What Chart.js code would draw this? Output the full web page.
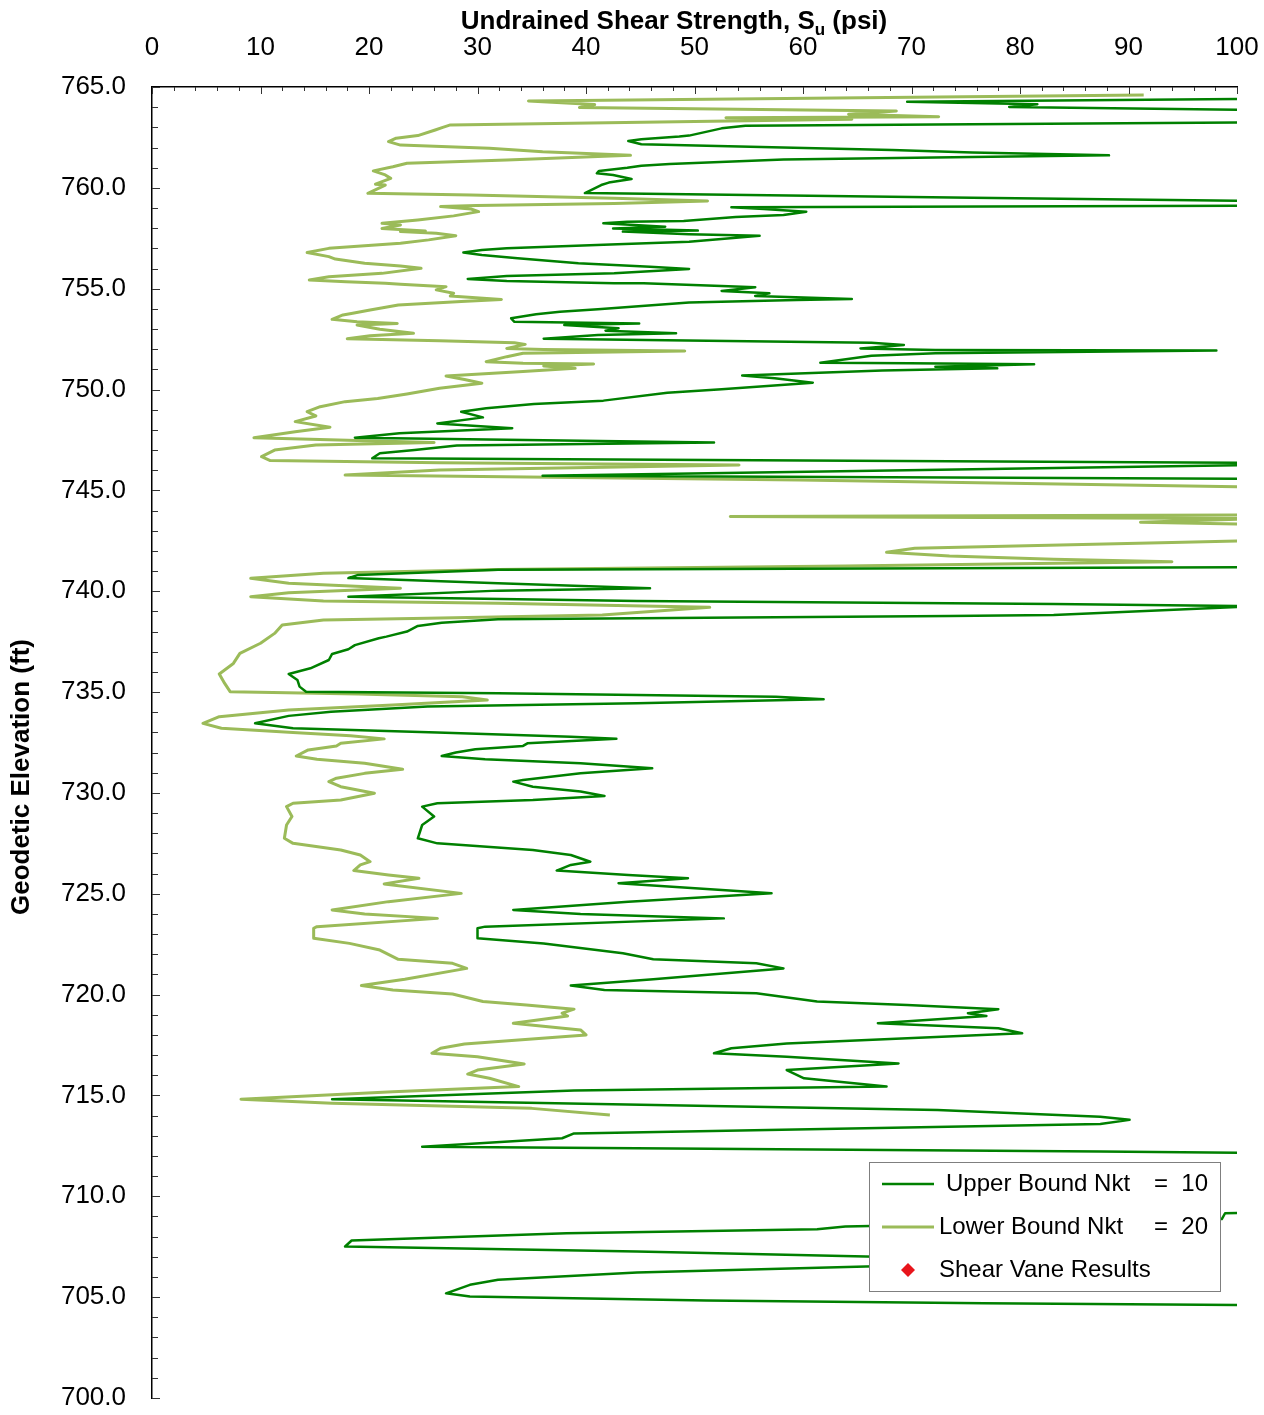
<!DOCTYPE html>
<html>
<head>
<meta charset="utf-8">
<script src="https://cdn.jsdelivr.net/npm/chart.js@4.4.1/dist/chart.umd.min.js"></script>
<style>
  html, body { margin: 0; padding: 0; background: #fff; }
  #wrap { width: 1264px; height: 1415px; }
</style>
</head>
<body>
<div id="wrap"><canvas id="chart" width="1264" height="1415"></canvas></div>
<script>
// CPT derived undrained shear strength vs elevation
// values of 102 sit just past the right edge (off scale)

const upperSu = [
  102, 69.6, 81.6, 79.0, 102, 102, 54.7, 52.5, 49.5, 48.6, 45.1, 43.9, 45.1, 68.2, 75.6, 88.2,
  75.6, 58.2, 47.7, 45.1, 43.8, 41.2, 41.0, 42.5, 44.2, 42.1, 41.4, 39.9, 75.6, 102, 102, 53.4,
  56.4, 60.3, 58.2, 53.8, 49.0, 43.8, 41.6, 47.3, 42.5, 50.3, 43.4, 49.5, 56.0, 49.5, 42.9, 32.7,
  30.4, 28.7, 30.4, 33.7, 39.3, 45.9, 49.5, 42.6, 32.7, 29.1, 32.7, 42.6, 45.3, 52.5, 55.6, 52.5,
  56.9, 55.6, 64.5, 59.4, 49.5, 41.1, 37.6, 35.4, 33.1, 33.4, 44.9, 38.0, 43.0, 41.8, 48.3, 41.1,
  36.1, 66.3, 69.3, 65.3, 72.2, 98.1, 72.2, 66.3, 61.6, 69.8, 81.3, 72.2, 77.9, 67.3, 54.4, 57.4,
  60.9, 52.5, 47.5, 41.6, 35.2, 30.8, 28.5, 30.5, 26.3, 33.2, 22.8, 18.7, 51.8, 28.1, 24.2, 21.0,
  20.3, 102, 102, 36.0, 102, 102, 31.9, 19.0, 18.1, 31.9, 45.9, 31.9, 18.1, 44.7, 83.1, 102,
  83.1, 73.5, 31.9, 26.7, 24.5, 23.5, 21.6, 20.9, 18.7, 18.1, 16.6, 16.3, 14.6, 12.6, 13.4, 13.6,
  14.2, 31.9, 57.5, 61.9, 44.7, 25.4, 16.5, 12.6, 9.5, 13.0, 26.3, 38.6, 42.8, 34.6, 34.2, 29.8,
  28.0, 26.7, 30.7, 39.5, 46.1, 39.5, 34.2, 33.3, 35.1, 39.5, 41.7, 35.1, 26.3, 24.9, 26.0, 24.9,
  24.5, 26.3, 35.1, 38.6, 40.4, 38.6, 37.3, 43.9, 49.4, 43.0, 57.1, 43.9, 33.3, 39.5, 52.7, 30.7,
  30.0, 30.0, 36.1, 43.4, 46.2, 55.7, 58.2, 46.2, 38.6, 41.7, 55.7, 61.3, 69.6, 78.0, 75.2, 76.9,
  66.9, 78.0, 80.2, 58.5, 53.4, 51.8, 58.5, 68.8, 58.5, 60.1, 67.7, 38.9, 16.6, 33.3, 72.4, 87.4,
  90.1, 87.4, 38.9, 37.8, 24.9, 87.4, 102, 102, 98.9, 98.6, 63.9, 61.3, 38.2, 18.4, 17.8, 44.7,
  65.8, 88.0, 65.8, 44.7, 31.9, 29.3, 27.1, 29.3, 51.1, 76.7, 102
];
const upperElev = [
  764.41, 764.27, 764.14, 764.01, 763.86, 763.25, 763.08, 762.95, 762.59, 762.54, 762.41, 762.32, 762.16, 761.88, 761.75, 761.61,
  761.53, 761.40, 761.18, 761.10, 761.00, 760.84, 760.72, 760.64, 760.44, 760.26, 760.14, 759.74, 759.51, 759.35, 759.12, 759.04,
  758.95, 758.82, 758.65, 758.55, 758.36, 758.32, 758.24, 758.07, 757.99, 757.88, 757.83, 757.70, 757.62, 757.33, 757.20, 757.00,
  756.92, 756.79, 756.67, 756.51, 756.26, 756.09, 755.98, 755.76, 755.63, 755.48, 755.38, 755.27, 755.27, 755.13, 755.07, 754.89,
  754.77, 754.64, 754.49, 754.44, 754.31, 753.98, 753.86, 753.73, 753.53, 753.36, 753.28, 753.20, 753.04, 752.92, 752.79, 752.70,
  752.52, 752.32, 752.21, 752.04, 751.96, 751.93, 751.80, 751.67, 751.33, 751.30, 751.25, 751.13, 751.05, 750.94, 750.69, 750.56,
  750.34, 750.01, 749.84, 749.45, 749.28, 749.07, 748.90, 748.62, 748.32, 748.08, 747.83, 747.61, 747.37, 747.22, 747.00, 746.84,
  746.59, 746.37, 746.26, 745.73, 745.57, 741.19, 741.06, 740.81, 740.65, 740.40, 740.15, 740.03, 739.73, 739.52, 739.37, 739.26,
  738.82, 738.77, 738.61, 738.44, 738.28, 738.00, 737.75, 737.67, 737.33, 737.12, 736.89, 736.59, 736.18, 735.90, 735.60, 735.27,
  735.02, 734.94, 734.77, 734.64, 734.45, 734.28, 734.03, 733.82, 733.45, 733.21, 733.00, 732.79, 732.68, 732.46, 732.33, 732.17,
  732.00, 731.83, 731.67, 731.47, 731.22, 730.97, 730.64, 730.56, 730.31, 730.07, 729.85, 729.65, 729.49, 729.32, 728.83, 728.41,
  727.75, 727.50, 727.17, 726.92, 726.59, 726.43, 726.15, 725.93, 725.77, 725.52, 725.02, 724.61, 724.20, 724.00, 723.78, 723.37,
  723.29, 722.79, 722.54, 722.05, 721.75, 721.55, 721.30, 720.76, 720.45, 720.23, 720.07, 719.66, 719.49, 719.28, 719.08, 718.94,
  718.58, 718.33, 718.08, 717.58, 717.34, 717.09, 716.92, 716.59, 716.26, 715.85, 715.44, 715.24, 714.81, 714.65, 714.28, 713.95,
  713.79, 713.59, 713.12, 712.88, 712.46, 712.22, 712.15, 709.18, 709.16, 708.87, 708.50, 708.37, 708.17, 707.81, 707.51, 707.26,
  707.01, 706.78, 706.52, 706.22, 705.86, 705.61, 705.19, 705.03, 704.83, 704.70, 704.60
];

const lowerSu = [
  91.4, 34.7, 40.8, 39.4, 68.6, 64.2, 72.5, 52.9, 64.5, 27.5, 26.8, 26.1, 24.5, 22.5, 21.8, 22.9,
  31.1, 36.0, 44.1, 32.7, 23.5, 22.2, 20.4, 21.5, 22.0, 20.6, 21.5, 19.9, 29.4, 42.6, 51.2, 42.6,
  29.9, 26.6, 29.4, 30.1, 27.8, 24.5, 21.2, 22.9, 21.2, 25.2, 22.9, 26.2, 28.0, 25.5, 22.9, 16.3,
  14.3, 16.3, 16.9, 19.6, 22.9, 24.8, 21.2, 16.3, 14.5, 17.9, 21.5, 22.9, 27.1, 26.2, 27.8, 27.5,
  32.2, 28.5, 22.7, 20.1, 18.5, 17.6, 16.6, 18.9, 22.6, 18.9, 21.0, 24.1, 20.1, 18.0, 26.5, 33.4,
  34.4, 32.7, 36.1, 49.1, 34.2, 32.7, 30.8, 34.2, 40.7, 36.1, 39.0, 34.2, 27.1, 28.8, 30.4, 26.5,
  23.5, 20.8, 17.8, 15.5, 14.3, 15.1, 13.2, 16.4, 13.2, 9.4, 18.9, 26.0, 15.1, 11.3, 10.1, 10.9,
  26.5, 54.1, 26.5, 17.8, 59.7, 102, 102, 53.3, 102, 91.1, 102, 102, 94.0, 70.3, 67.7, 73.5,
  83.1, 94.0, 63.9, 31.9, 15.8, 9.1, 12.6, 22.9, 12.6, 9.1, 15.8, 31.9, 51.4, 41.5, 25.4, 15.8,
  12.0, 11.3, 10.0, 8.1, 7.5, 6.2, 6.7, 7.2, 19.0, 28.6, 30.9, 22.2, 12.6, 6.2, 4.7, 6.4,
  13.0, 18.3, 21.4, 17.4, 17.0, 14.4, 13.3, 15.2, 19.6, 23.1, 19.6, 17.0, 16.3, 17.4, 20.5, 17.4,
  13.0, 12.4, 12.9, 12.4, 12.2, 13.0, 17.4, 19.2, 20.1, 19.2, 18.6, 21.8, 24.6, 21.4, 28.5, 21.8,
  16.6, 19.6, 26.3, 15.2, 14.9, 14.9, 18.2, 21.0, 22.7, 27.7, 29.0, 23.3, 19.3, 22.2, 27.7, 30.5,
  34.5, 38.9, 37.8, 38.3, 33.3, 39.5, 40.0, 28.8, 26.6, 25.8, 30.0, 34.3, 30.0, 29.1, 31.1, 33.8,
  22.2, 8.2, 16.6, 35.0, 42.2
];
const lowerElev = [
  764.60, 764.31, 764.13, 763.98, 763.81, 763.65, 763.53, 763.47, 763.40, 763.12, 763.00, 762.87, 762.59, 762.46, 762.29, 762.12,
  761.96, 761.79, 761.61, 761.38, 761.22, 761.05, 760.84, 760.64, 760.47, 760.18, 760.14, 759.73, 759.64, 759.48, 759.35, 759.23,
  759.12, 759.07, 758.95, 758.82, 758.61, 758.41, 758.24, 758.16, 757.99, 757.86, 757.83, 757.75, 757.63, 757.42, 757.25, 757.00,
  756.79, 756.59, 756.47, 756.26, 756.13, 756.01, 755.76, 755.59, 755.43, 755.35, 755.27, 755.22, 755.10, 754.94, 754.77, 754.64,
  754.47, 754.36, 754.19, 753.94, 753.78, 753.70, 753.48, 753.36, 753.28, 753.20, 752.99, 752.79, 752.67, 752.52, 752.42, 752.32,
  752.24, 752.04, 751.99, 751.91, 751.80, 751.63, 751.38, 751.30, 751.27, 751.17, 751.05, 750.89, 750.67, 750.50, 750.31, 750.06,
  749.78, 749.56, 749.40, 749.15, 748.90, 748.69, 748.41, 748.13, 747.91, 747.61, 747.47, 747.37, 747.25, 747.00, 746.67, 746.48,
  746.37, 746.26, 746.01, 745.76, 745.52, 745.16, 743.78, 743.70, 743.60, 743.42, 743.32, 742.51, 742.41, 742.13, 741.93, 741.75,
  741.58, 741.46, 741.25, 741.08, 740.89, 740.64, 740.40, 740.15, 739.93, 739.73, 739.52, 739.40, 739.20, 738.82, 738.66, 738.57,
  738.33, 737.91, 737.42, 736.92, 736.42, 735.90, 735.43, 735.02, 734.91, 734.77, 734.61, 734.36, 734.11, 733.78, 733.45, 733.21,
  733.00, 732.83, 732.68, 732.46, 732.33, 732.13, 731.83, 731.67, 731.47, 731.17, 730.97, 730.73, 730.56, 730.31, 729.98, 729.65,
  729.49, 729.32, 728.83, 728.41, 727.75, 727.50, 727.17, 726.92, 726.59, 726.43, 726.15, 725.93, 725.77, 725.49, 725.02, 724.61,
  724.20, 724.00, 723.78, 723.37, 723.29, 722.79, 722.54, 722.21, 721.75, 721.55, 721.30, 720.76, 720.45, 720.23, 720.03, 719.66,
  719.49, 719.28, 719.08, 718.94, 718.58, 718.25, 718.00, 717.55, 717.34, 717.09, 716.92, 716.56, 716.26, 716.06, 715.85, 715.44,
  715.19, 714.81, 714.61, 714.36, 714.03
];

// no shear vane points plotted in this figure
const vaneSu = [];
const vaneElev = [];

const seriesLabels = ['Upper Bound Nkt', 'Lower Bound Nkt', 'Shear Vane Results'];
const seriesNkt = ['10', '20', ''];

const DARK_GREEN = '#008000';
const LIGHT_GREEN = '#9bbb59';
const VANE_RED = '#e8141b';
const FONT = "'Liberation Sans', Arial, Helvetica, sans-serif";

const toPoints = (xs, ys) => xs.map((x, i) => ({ x, y: ys[i] }));

// inner minor/major tick marks plus axis titles
const axisDecor = {
  id: 'axisDecor',
  afterDraw(chart) {
    const { ctx, chartArea: a, scales: { x, y } } = chart;
    ctx.save();
    ctx.strokeStyle = '#333';
    ctx.lineWidth = 1;
    ctx.beginPath();
    for (let v = x.min; v <= x.max; v += 2) {
      const px = Math.round(x.getPixelForValue(v)) + 0.5;
      const len = v % 10 === 0 ? 7 : 4;
      ctx.moveTo(px, a.top);
      ctx.lineTo(px, a.top + len);
    }
    for (let v = y.min; v <= y.max; v += 1) {
      const py = Math.round(y.getPixelForValue(v)) + 0.5;
      const len = v % 5 === 0 ? 8 : 6;
      ctx.moveTo(a.left, py);
      ctx.lineTo(a.left + len, py);
    }
    ctx.stroke();

    // top title with subscript u
    ctx.fillStyle = '#000';
    ctx.textBaseline = 'alphabetic';
    ctx.textAlign = 'left';
    const big = 'bold 26px ' + FONT;
    const small = 'bold 17px ' + FONT;
    const p1 = 'Undrained Shear Strength, S', p2 = 'u', p3 = ' (psi)';
    ctx.font = big;
    const w1 = ctx.measureText(p1).width, w3 = ctx.measureText(p3).width;
    ctx.font = small;
    const w2 = ctx.measureText(p2).width;
    let tx = 674 - (w1 + w2 + w3) / 2;
    const base = 29;
    ctx.font = big; ctx.fillText(p1, tx, base); tx += w1;
    ctx.font = small; ctx.fillText(p2, tx, base + 6); tx += w2;
    ctx.font = big; ctx.fillText(p3, tx, base);

    // left title
    ctx.translate(22, 777);
    ctx.rotate(-Math.PI / 2);
    ctx.textAlign = 'center';
    ctx.textBaseline = 'middle';
    ctx.font = big;
    ctx.fillText('Geodetic Elevation (ft)', 0, 0);
    ctx.restore();
  }
};

// boxed legend in lower right of plot
const boxLegend = {
  id: 'boxLegend',
  afterDraw(chart) {
    const { ctx } = chart;
    const ds = chart.data.datasets;
    ctx.save();
    ctx.fillStyle = '#fff';
    ctx.fillRect(869, 1162, 351, 129);
    ctx.strokeStyle = '#7f7f7f';
    ctx.lineWidth = 1;
    ctx.strokeRect(869.5, 1162.5, 351, 129);

    ctx.font = '24px ' + FONT;
    ctx.fillStyle = '#000';
    ctx.textBaseline = 'middle';
    const rows = [1184, 1227, 1270];
    const textX = [946, 939, 939];
    for (let i = 0; i < 3; i++) {
      const ry = rows[i];
      if (i < 2) {
        ctx.strokeStyle = ds[i].borderColor;
        ctx.lineWidth = ds[i].borderWidth;
        ctx.beginPath();
        ctx.moveTo(882, ry);
        ctx.lineTo(934, ry);
        ctx.stroke();
      } else {
        ctx.fillStyle = ds[i].backgroundColor;
        ctx.beginPath();
        ctx.moveTo(908, ry - 7);
        ctx.lineTo(915, ry);
        ctx.lineTo(908, ry + 7);
        ctx.lineTo(901, ry);
        ctx.closePath();
        ctx.fill();
        ctx.fillStyle = '#000';
      }
      ctx.textAlign = 'left';
      ctx.fillText(seriesLabels[i], textX[i], ry);
      if (seriesNkt[i]) {
        ctx.textAlign = 'center';
        ctx.fillText('=', 1161, ry);
        ctx.textAlign = 'right';
        ctx.fillText(seriesNkt[i], 1208, ry);
      }
    }
    ctx.restore();
  }
};

const tickFont = { family: FONT, size: 26 };

new Chart(document.getElementById('chart'), {
  type: 'scatter',
  data: {
    datasets: [
      {
        label: seriesLabels[0],
        data: toPoints(upperSu, upperElev),
        showLine: true,
        borderColor: DARK_GREEN,
        backgroundColor: DARK_GREEN,
        borderWidth: 2.5,
        pointRadius: 0,
        tension: 0,
        borderJoinStyle: 'round'
      },
      {
        label: seriesLabels[1],
        data: toPoints(lowerSu, lowerElev),
        showLine: true,
        borderColor: LIGHT_GREEN,
        backgroundColor: LIGHT_GREEN,
        borderWidth: 3,
        pointRadius: 0,
        tension: 0,
        borderJoinStyle: 'round'
      },
      {
        label: seriesLabels[2],
        data: toPoints(vaneSu, vaneElev),
        borderColor: VANE_RED,
        backgroundColor: VANE_RED,
        pointStyle: 'rectRot',
        pointRadius: 7
      }
    ]
  },
  options: {
    responsive: false,
    animation: false,
    layout: { padding: { left: 0, top: 0, right: 27, bottom: 17 } },
    plugins: {
      legend: { display: false },
      tooltip: { enabled: false },
      title: { display: false }
    },
    scales: {
      x: {
        type: 'linear',
        position: 'top',
        min: 0,
        max: 100,
        ticks: { stepSize: 10, color: '#000', font: tickFont, padding: 24, maxRotation: 0 },
        grid: { display: false, drawTicks: false },
        border: { display: true, color: '#000', width: 1.5 },
        afterFit: s => { s.height = 87; s.paddingLeft = 0; s.paddingRight = 0; }
      },
      y: {
        type: 'linear',
        min: 700,
        max: 765,
        ticks: { stepSize: 5, color: '#000', font: tickFont, padding: 26, callback: v => v.toFixed(1) },
        grid: { display: false, drawTicks: false },
        border: { display: true, color: '#000', width: 1.5 },
        afterFit: s => { s.width = 152; s.paddingTop = 0; s.paddingBottom = 0; }
      }
    }
  },
  plugins: [axisDecor, boxLegend]
});
</script>
</body>
</html>
